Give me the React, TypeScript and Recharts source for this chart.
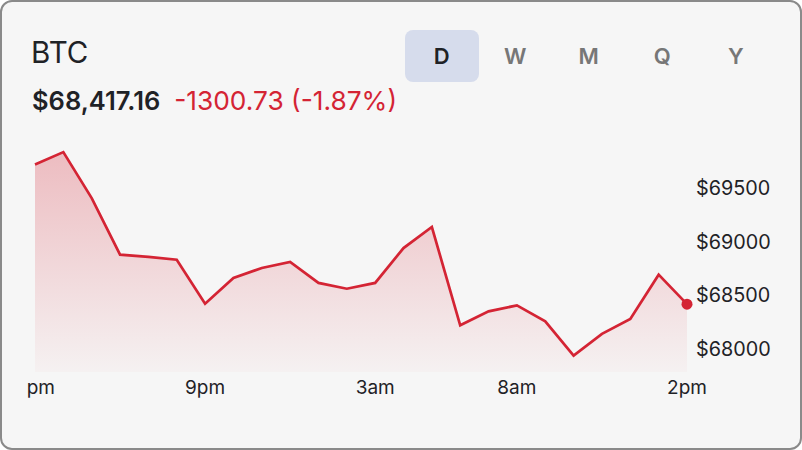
import React from "react";
import { AreaChart, Area, XAxis, YAxis } from "recharts";

const hours = ["3pm","4pm","5pm","6pm","7pm","8pm","9pm","10pm","11pm","12am","1am","2am","3am","4am","5am","6am","7am","8am","9am","10am","11am","12pm","1pm","2pm"];
const prices = [69717.89, 69834, 69406, 68878, 68857, 68831, 68422, 68661, 68754, 68810, 68615, 68561, 68615, 68940, 69136, 68220, 68350, 68406, 68257, 67938, 68140, 68279, 68692, 68417.16];
const shownHours = ["3pm", "9pm", "3am", "8am", "2pm"];
const priceTicks = [68000, 68500, 69000, 69500];
const periods = ["D", "W", "M", "Q", "Y"];
const symbol = "BTC";
const lastPrice = "$68,417.16";
const change = "-1300.73 (-1.87%)";

const data = hours.map((h, i) => ({ hour: h, price: prices[i] }));

const RED = "#d42434";
const FONT = "Inter, 'Noto Sans', sans-serif";

export default function App() {
  const last = data.length - 1;
  return (
    <div
      style={{
        position: "fixed",
        left: 0,
        top: 0,
        width: 802,
        height: 450,
        boxSizing: "border-box",
        border: "2px solid #8a8a8a",
        borderRadius: 12,
        background: "#f6f6f6",
        fontFamily: FONT,
        overflow: "hidden",
      }}
    >
      <div style={{ position: "absolute", left: 29, top: 36, fontSize: 29.5, lineHeight: 1, color: "#1f2226" }}>
        {symbol}
      </div>
      <div style={{ position: "absolute", left: 30, top: 86, fontSize: 25.5, lineHeight: 1, whiteSpace: "nowrap" }}>
        <span style={{ color: "#1f2226", fontWeight: 600 }}>{lastPrice}</span>
        <span style={{ color: RED, marginLeft: 14, fontSize: 26.3 }}>{change}</span>
      </div>
      <div style={{ position: "absolute", left: 403, top: 28, display: "flex" }}>
        {periods.map((p, i) => (
          <div
            key={p}
            style={{
              width: 73.5,
              height: 52,
              borderRadius: 8,
              background: i === 0 ? "#d6dcec" : "transparent",
              color: i === 0 ? "#1f2226" : "#777777",
              fontWeight: 600,
              fontSize: 22,
              display: "flex",
              alignItems: "center",
              justifyContent: "center",
            }}
          >
            {p}
          </div>
        ))}
      </div>
      <div style={{ position: "absolute", left: 25, top: 138 }}>
        <AreaChart width={760} height={262} data={data} margin={{ top: 12, right: 0, bottom: 0, left: 8 }}>
          <defs>
            <linearGradient id="btcFill" x1="0" y1="0" x2="0" y2="1">
              <stop offset="0%" stopColor={RED} stopOpacity={0.46} />
              <stop offset="100%" stopColor={RED} stopOpacity={0.04} />
            </linearGradient>
          </defs>
          <XAxis
            dataKey="hour"
            interval={0}
            tickLine={false}
            axisLine={false}
            tickMargin={3}
            height={30}
            tick={{ fill: "#1f2226", fontSize: 19, fontFamily: FONT }}
            tickFormatter={(v: string) => (shownHours.includes(v) ? v : "")}
          />
          <YAxis
            orientation="right"
            domain={[67785, 69835]}
            ticks={priceTicks}
            tickLine={false}
            axisLine={false}
            tickMargin={3}
            width={100}
            tick={{ fill: "#1f2226", fontSize: 19.8, fontFamily: FONT, textAnchor: "start" }}
            tickFormatter={(v: number) => "$" + v}
          />
          <Area
            type="linear"
            dataKey="price"
            stroke={RED}
            strokeWidth={2.7}
            fill="url(#btcFill)"
            isAnimationActive={false}
            activeDot={false}
            dot={(props: any) =>
              props.index === last ? (
                <circle key="end" cx={props.cx} cy={props.cy} r={5.5} fill={RED} />
              ) : (
                <g key={"d" + props.index} />
              )
            }
          />
        </AreaChart>
      </div>
    </div>
  );
}
